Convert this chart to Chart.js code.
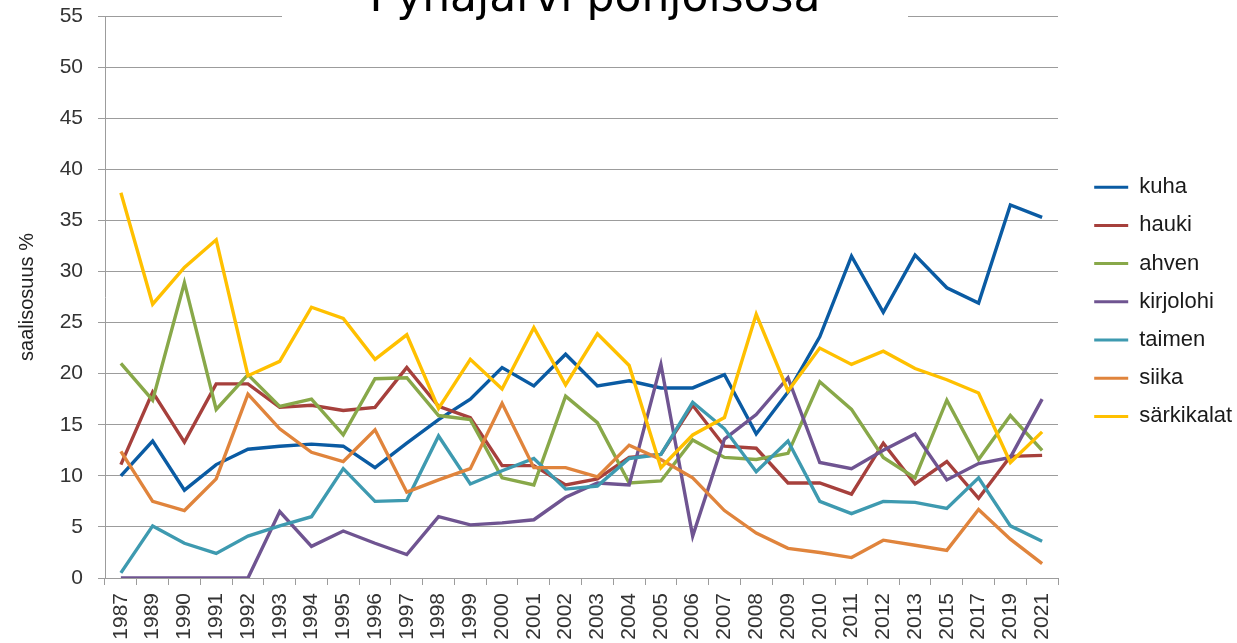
<!DOCTYPE html>
<html>
<head>
<meta charset="utf-8">
<script src="https://cdn.jsdelivr.net/npm/chart.js@4/dist/chart.umd.min.js"></script>
<style>
    html, body { margin: 0; padding: 0; background: #fff; overflow: hidden; }
    #wrap { position: relative; width: 1237px; height: 643px; }
    #otsikko {
        position: absolute; left: 282px; top: -26px; width: 626px; height: 46px;
        background: #fff; text-align: center;
        font-family: "DejaVu Sans", sans-serif; font-size: 44px; line-height: 44px; color: #000;
    }
</style>
</head>
<body>
<div id="wrap">
    <canvas id="kaavio" width="1237" height="643"></canvas>
    <div id="otsikko">Pyhäjärvi pohjoisosa</div>
</div>
<script>
const vuodet = ['1987', '1989', '1990', '1991', '1992', '1993', '1994', '1995', '1996', '1997',
    '1998', '1999', '2000', '2001', '2002', '2003', '2004', '2005', '2006', '2007',
    '2008', '2009', '2010', '2011', '2012', '2013', '2015', '2017', '2019', '2021'];

const kuha = [10.0, 13.4, 8.6, 11.1, 12.6, 12.9, 13.1, 12.9, 10.8, 13.2, 15.5, 17.5, 20.6, 18.8, 21.9,
    18.8, 19.3, 18.6, 18.6, 19.9, 14.1, 18.2, 23.6, 31.5, 26.0, 31.6, 28.4, 26.9, 36.5, 35.3];
const hauki = [11.1, 18.2, 13.3, 19.0, 19.0, 16.7, 16.9, 16.4, 16.7, 20.6, 16.8, 15.7, 11.0, 11.0, 9.1,
    9.7, 11.8, 12.1, 16.9, 12.9, 12.7, 9.3, 9.3, 8.2, 13.2, 9.2, 11.4, 7.8, 11.9, 12.0];
const ahven = [21.0, 17.4, 28.9, 16.5, 19.9, 16.8, 17.5, 14.0, 19.5, 19.6, 15.9, 15.5, 9.8, 9.1, 17.8,
    15.2, 9.3, 9.5, 13.5, 11.8, 11.6, 12.2, 19.2, 16.5, 11.8, 9.8, 17.4, 11.6, 15.9, 12.5];
const kirjolohi = [0, 0, 0, 0, 0, 6.5, 3.1, 4.6, 3.4, 2.3, 6.0, 5.2, 5.4, 5.7, 7.9,
    9.3, 9.1, 20.9, 4.1, 13.6, 16.0, 19.6, 11.3, 10.7, 12.5, 14.1, 9.6, 11.2, 11.8, 17.5];
const taimen = [0.5, 5.1, 3.4, 2.4, 4.1, 5.1, 6.0, 10.7, 7.5, 7.6, 13.9, 9.2, 10.5, 11.7, 8.7,
    9.0, 11.7, 12.1, 17.2, 14.6, 10.4, 13.4, 7.5, 6.3, 7.5, 7.4, 6.8, 9.8, 5.1, 3.6];
const siika = [12.4, 7.5, 6.6, 9.7, 18.0, 14.6, 12.3, 11.4, 14.5, 8.4, 9.6, 10.7, 17.1, 10.8, 10.8,
    9.9, 13.0, 11.6, 9.8, 6.6, 4.4, 2.9, 2.5, 2.0, 3.7, 3.2, 2.7, 6.7, 3.8, 1.4];
const sarkikalat = [37.7, 26.8, 30.4, 33.1, 19.8, 21.2, 26.5, 25.4, 21.4, 23.8, 16.6, 21.4, 18.5, 24.5, 18.9,
    23.9, 20.8, 10.8, 14.0, 15.7, 25.8, 18.3, 22.5, 20.9, 22.2, 20.5, 19.4, 18.1, 11.3, 14.3];

const nimet = ['kuha', 'hauki', 'ahven', 'kirjolohi', 'taimen', 'siika', 'särkikalat'];
const sarjat = [kuha, hauki, ahven, kirjolohi, taimen, siika, sarkikalat];
const varit = ['#0a5ba3', '#a6403c', '#88a849', '#6f5491', '#3e9ab0', '#e0843c', '#ffc000'];

const fontti = '"Liberation Sans", Arial, sans-serif';
const harmaa = '#9c9c9c';

// legend sits a bit off the plot like in the original
const selitePaikka = {
    id: 'selitePaikka',
    beforeUpdate(chart) {
        const lg = chart.legend;
        if (lg && !lg._korjattu) {
            const vanha = lg.fit;
            lg.fit = function () {
                vanha.call(this);
                this.width = 179;
            };
            lg._korjattu = true;
        }
    },
    afterLayout(chart) {
        const lg = chart.legend;
        lg.left = 1078;
        lg.right = 1237;
        lg.top = 160;
        lg.bottom = 643;
    }
};

function datasetit() {
    let ds = [];
    for (let i = 0; i < sarjat.length; i++) {
        ds.push({
            label: nimet[i],
            data: sarjat[i],
            borderColor: varit[i],
            backgroundColor: varit[i],
            borderWidth: 3.4,
            pointRadius: 0,
            tension: 0,
            order: sarjat.length - i
        });
    }
    return ds;
}

const ctx = document.getElementById('kaavio');

const kaavio = new Chart(ctx, {
    type: 'line',
    data: {
        labels: vuodet,
        datasets: datasetit()
    },
    plugins: [selitePaikka],
    options: {
        responsive: false,
        animation: false,
        layout: { padding: { top: 16, left: 0, right: 0, bottom: 0 } },
        plugins: {
            title: { display: false },
            tooltip: { enabled: false },
            legend: {
                position: 'right',
                align: 'start',
                labels: {
                    boxWidth: 34,
                    boxHeight: 3,
                    padding: 16.2,
                    color: '#1a1a1a',
                    font: { family: fontti, size: 22 },
                    sort: (a, b) => a.datasetIndex - b.datasetIndex,
                    generateLabels(chart) {
                        const lista = Chart.defaults.plugins.legend.labels.generateLabels(chart);
                        lista.forEach(l => { l.lineWidth = 0; });
                        return lista;
                    }
                }
            }
        },
        scales: {
            x: {
                type: 'category',
                offset: true,
                afterFit(scale) {
                    scale.height = 65;
                    scale.paddingLeft = 0;
                    scale.paddingRight = 0;
                },
                grid: {
                    offset: true,
                    drawOnChartArea: false,
                    drawTicks: true,
                    tickLength: 7,
                    color: harmaa
                },
                border: { color: harmaa, width: 1 },
                ticks: {
                    autoSkip: false,
                    minRotation: 90,
                    maxRotation: 90,
                    padding: 8,
                    color: '#333',
                    font: { family: fontti, size: 21 }
                }
            },
            y: {
                min: 0,
                max: 55,
                afterFit(scale) {
                    scale.width = 105;
                    scale.paddingTop = 0;
                    scale.paddingBottom = 0;
                },
                grid: {
                    color: harmaa,
                    tickLength: 7
                },
                border: { color: harmaa, width: 1 },
                ticks: {
                    stepSize: 5,
                    padding: 15,
                    color: '#333',
                    font: { family: fontti, size: 21 }
                },
                title: {
                    display: true,
                    text: 'saalisosuus %',
                    color: '#222',
                    padding: { top: 15, bottom: 0 },
                    font: { family: fontti, size: 20 }
                }
            }
        }
    }
});
</script>
</body>
</html>
